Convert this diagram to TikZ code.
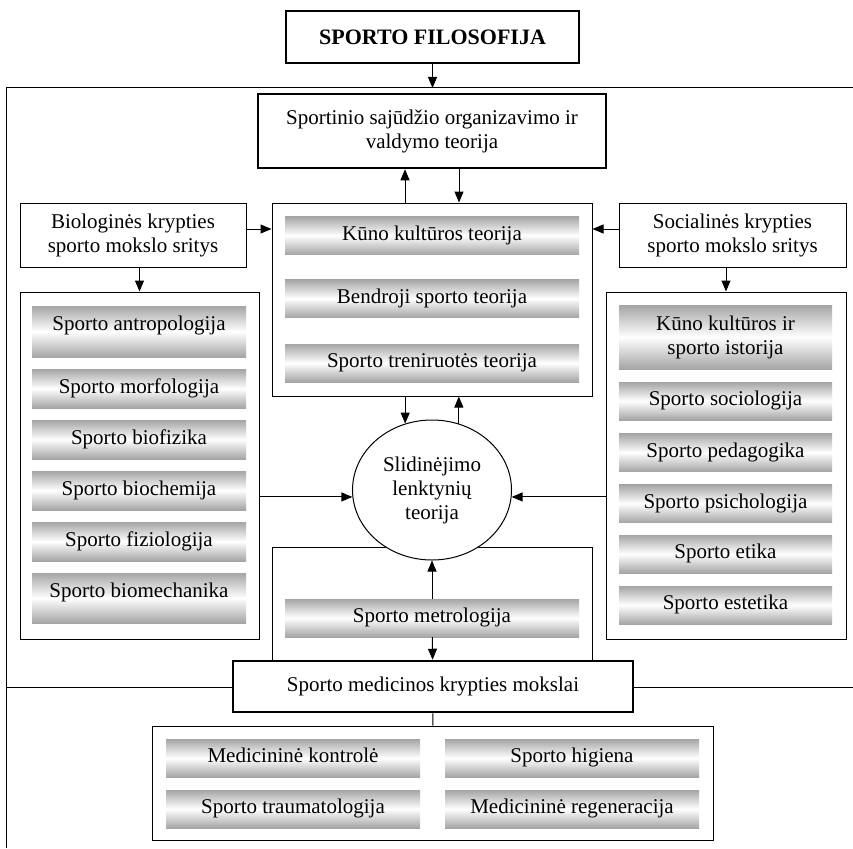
\documentclass[tikz,border=0pt]{standalone}
\usepackage{fontspec}
\setmainfont{Liberation Serif}
\usepackage{xcolor}
\usepackage{tikz}
\usetikzlibrary{arrows.meta, shapes.geometric, calc}
\definecolor{bargray}{RGB}{165,165,165}
\tikzstyle{arrow} = [line width=1pt,-{Triangle[length=11pt,width=9pt]}]
\tikzstyle{line} = [line width=1pt]
\tikzstyle{box} = [draw, line width=1pt, fill=white, inner sep=0pt, align=center]
\tikzstyle{thickbox} = [box, line width=2.5pt]
\tikzstyle{bar} = [inner sep=0pt, align=center, text height=14pt, text depth=5pt, top color=bargray, bottom color=bargray, middle color=white]
\tikzstyle{raised} = [text depth=16pt]
\tikzset{
  wh/.style 2 args={minimum width=#1pt, minimum height=#2pt},
}

\begin{document}
\begin{tikzpicture}[x=1pt, y=-1pt, font=\fontsize{21}{24}\selectfont]
        \useasboundingbox (0,0) rectangle (853,848);
        % outer frame
        \draw[line] (853,88) -- (6,88) -- (6,848);
        \coordinate (frametop) at (432.5,88);
        \coordinate (frameleft) at (6,687);
        \coordinate (frameright) at (853,687);

        \node[thickbox, wh={293}{52}, font=\fontsize{22}{24}\selectfont\bfseries] (filosofija) at (432.5,37) {SPORTO FILOSOFIJA};
        \node[thickbox, wh={348}{74}] (organizavimas) at (432,131) {Sportinio sajūdžio organizavimo ir\\valdymo teorija};
        \node[box, wh={320}{193}] (teorijos) at (432,299.5) {};
        \node[box, wh={226}{64}] (biologines) at (133,235) {Biologinės krypties\\sporto mokslo sritys};
        \node[box, wh={227}{64}] (socialines) at (732.5,235) {Socialinės krypties\\sporto mokslo sritys};
        \node[box, wh={239}{347}] (biosritys) at (139.5,465.5) {};
        \node[box, wh={240}{347}] (socsritys) at (726,465.5) {};
        \node[box, wh={320}{114}] (metrorem) at (432,604) {};
        \node[box, ellipse, wh={159}{140}] (slidinejimas) at (432,490) {Slidinėjimo\\lenktynių\\teorija};
        \draw[line] (frameleft) -- (frameright);
        \node[thickbox, wh={400}{51}] (medicina) at (433,686.5) {Sporto medicinos krypties mokslai};
        \node[box, wh={561}{114}] (medsritys) at (432.5,783) {};

        % bars
        \foreach \txt/\y [count=\i] in {Kūno kultūros teorija/235.5, Bendroji sporto teorija/298.5, Sporto treniruotės teorija/363}
          \node[bar, wh={294}{38}] (teorija\i) at (432,\y) {\txt};
        \node[bar, raised, wh={214}{51}] (antropologija) at (139,331.5) {Sporto antropologija};
        \foreach \txt/\y [count=\i] in {Sporto morfologija/388.5, Sporto biofizika/439.5, Sporto biochemija/490.5, Sporto fiziologija/541.5}
          \node[bar, wh={214}{39}] (bio\i) at (139,\y) {\txt};
        \node[bar, raised, wh={214}{50}] (biomechanika) at (139,598) {Sporto biomechanika};
        \node[bar, text height={}, text depth={}, wh={213}{64}] (istorija) at (725.5,337) {Kūno kultūros ir\\sporto istorija};
        \foreach \txt/\y [count=\i] in {Sporto sociologija/401, Sporto pedagogika/452.5, Sporto psichologija/503.5, Sporto etika/554, Sporto estetika/605}
          \node[bar, wh={213}{38}] (soc\i) at (725.5,\y) {\txt};
        \node[bar, wh={294}{38}] (metrologija) at (432,618) {Sporto metrologija};
        \node[bar, wh={254}{38}] (kontrole) at (293,758) {Medicininė kontrolė};
        \node[bar, wh={254}{38}] (higiena) at (572,758) {Sporto higiena};
        \node[bar, wh={254}{38}] (traumatologija) at (293,809) {Sporto traumatologija};
        \node[bar, wh={254}{38}] (regeneracija) at (572,809) {Medicininė regeneracija};

        % connectors
        \draw[arrow] (filosofija) -- (frametop);
        \draw[arrow] ([xshift=-27pt]organizavimas.south |- teorijos.north) -- ([xshift=-27pt]organizavimas.south);
        \draw[arrow] ([xshift=27pt]organizavimas.south) -- ([xshift=27pt]organizavimas.south |- teorijos.north);
        \draw[arrow] ([yshift=6pt]biologines.east) -- ([yshift=6pt]biologines.east -| teorijos.west);
        \draw[arrow] ([yshift=6pt]socialines.west) -- ([yshift=6pt]socialines.west -| teorijos.east);
        \draw[arrow] (biologines.south -| biosritys.north) -- (biosritys.north);
        \draw[arrow] (socialines.south -| socsritys.north) -- (socsritys.north);
        \draw[arrow] (slidinejimas.112 |- teorijos.south) -- (slidinejimas.112);
        \draw[arrow] (slidinejimas.68) -- (slidinejimas.68 |- teorijos.south);
        \draw[arrow] (slidinejimas.185 -| biosritys.east) -- (slidinejimas.185);
        \draw[arrow] (slidinejimas.355 -| socsritys.west) -- (slidinejimas.355);
        \draw[arrow] (metrologija) -- (slidinejimas);
        \draw[arrow] (metrologija) -- (medicina);
        \draw[line] (medicina) -- (medsritys);
\end{tikzpicture}
\end{document}
